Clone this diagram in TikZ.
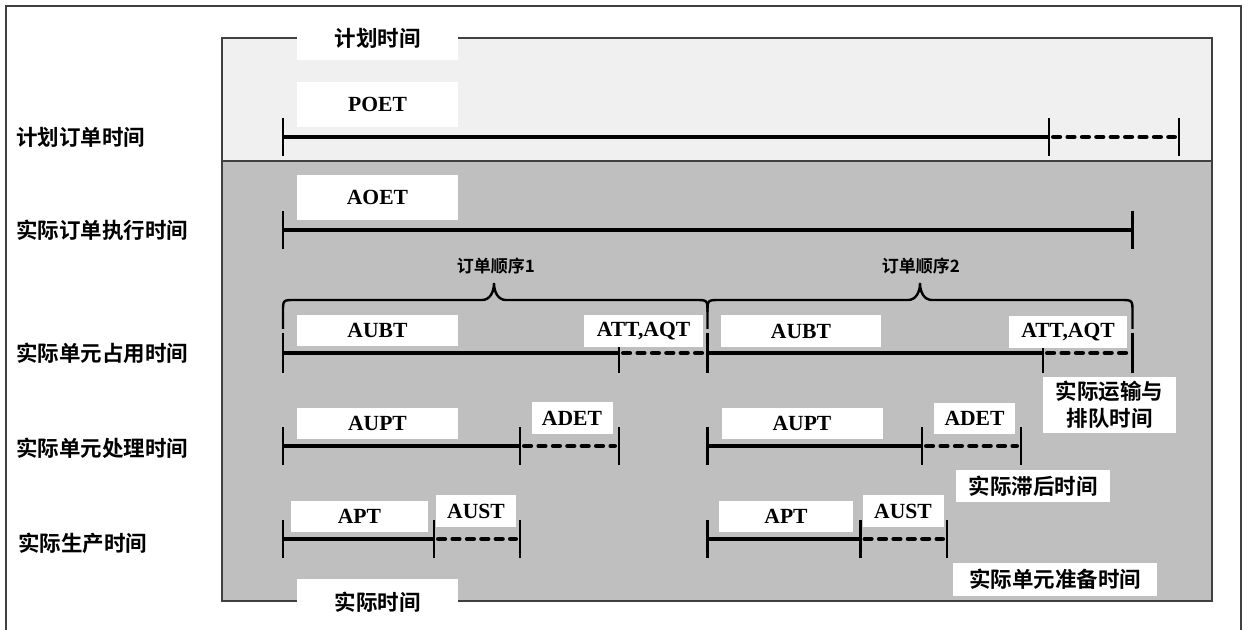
\documentclass[tikz,border=0pt]{standalone}
\usepackage{fontspec}
\setmainfont{Liberation Serif}
\newfontfamily\cjk{Noto Sans CJK SC}[BoldFont={Noto Sans CJK SC Bold}]
\definecolor{planbg}{gray}{0.94}
\definecolor{actbg}{gray}{0.75}
\definecolor{frameline}{gray}{0.25}

\begin{document}
\begin{tikzpicture}[x=0.5pt, y=-0.5pt,
    tbox/.style={fill=white, inner sep=0pt, font=\bfseries\fontsize{10.8}{13}\selectfont},
    cbox/.style={fill=white, inner sep=0pt, align=center, font=\cjk\bfseries\fontsize{10.75}{13.5}\selectfont},
    rowlabel/.style={anchor=west, inner sep=0pt, font=\cjk\bfseries\fontsize{10.75}{13}\selectfont},
    seqlabel/.style={inner sep=0pt, font=\cjk\bfseries\fontsize{8.5}{10}\selectfont},
    spanline/.style={line width=2.4pt},
    waitline/.style={line width=2.4pt, dash pattern=on 3.2pt off 4pt, line cap=round, shorten <=2.2pt, shorten >=2.2pt},
    tickline/.style={line width=1.3pt},
    braceline/.style={line width=1.2pt}]
    \useasboundingbox (0,0) rectangle (1244,630);
    \draw[frameline, line width=0.6pt] (6,630) -- (6,6) -- (1241,6) -- (1241,630);

    \fill[planbg] (222,38) rectangle (1212,161);
    \fill[actbg] (222,161) rectangle (1212,601);
    \draw[frameline, line width=0.6pt] (222,38) rectangle (1212,601);
    \draw[frameline, line width=0.6pt] (222,161) -- (1212,161);

    % time marks
    \coordinate (poet0) at (283,137);
    \coordinate (poet1) at (1049,137);
    \coordinate (poet2) at (1179,137);
    \coordinate (aoet0) at (283,230);
    \coordinate (aoet1) at (1132.5,230);
    \coordinate (ubA0) at (283,353);
    \coordinate (ubA1) at (619,353);
    \coordinate (ubB0) at (707.5,353);
    \coordinate (ubB1) at (1043,353);
    \coordinate (ubB2) at (1132.5,353);
    \coordinate (upA0) at (283,446);
    \coordinate (upA1) at (520,446);
    \coordinate (upA2) at (619,446);
    \coordinate (upB0) at (707.5,446);
    \coordinate (upB1) at (922,446);
    \coordinate (upB2) at (1021,446);
    \coordinate (ptA0) at (283,539);
    \coordinate (ptA1) at (434,539);
    \coordinate (ptA2) at (520,539);
    \coordinate (ptB0) at (707.5,539);
    \coordinate (ptB1) at (860.5,539);
    \coordinate (ptB2) at (947,539);

    \draw[spanline] (poet0) -- (poet1);
    \draw[waitline] (poet1) -- (poet2);
    \draw[spanline] (aoet0) -- (aoet1);
    \draw[spanline] (ubA0) -- (ubA1);
    \draw[waitline] (ubA1) -- (ubB0);
    \draw[spanline] (ubB0) -- (ubB1);
    \draw[waitline] (ubB1) -- (ubB2);
    \draw[spanline] (upA0) -- (upA1);
    \draw[waitline] (upA1) -- (upA2);
    \draw[spanline] (upB0) -- (upB1);
    \draw[waitline] (upB1) -- (upB2);
    \draw[spanline] (ptA0) -- (ptA1);
    \draw[waitline] (ptA1) -- (ptA2);
    \draw[spanline] (ptB0) -- (ptB1);
    \draw[waitline] (ptB1) -- (ptB2);

    \foreach \p in {poet0,poet1,poet2,aoet0,aoet1,upA0,upA1,upA2,upB0,upB1,upB2,ptA0,ptA1,ptA2,ptB0,ptB1,ptB2}
        \draw[tickline] (\p) ++(0,-19) -- ++(0,38);
    \foreach \p in {ubA0,ubA1,ubB0,ubB1,ubB2}
        \draw[tickline] (\p) ++(0,-20) -- ++(0,40);

    % order braces
    \draw[braceline] (283,329) -- (283,312) .. controls (283,300) .. (295,300) -- (482,300)
        .. controls (490,300) and (494,292) .. (494,283) .. controls (494,292) and (498,300) .. (506,300)
        -- (695,300) .. controls (707.5,300) .. (707.5,312) -- (707.5,329);
    \draw[braceline] (707.5,312) .. controls (707.5,300) .. (720,300) -- (908,300)
        .. controls (916,300) and (920,292) .. (920,283) .. controls (920,292) and (924,300) .. (932,300)
        -- (1120,300) .. controls (1132.5,300) .. (1132.5,312) -- (1132.5,329);
    \node[seqlabel] (seq1) at (496,266) {订单顺序1};
    \node[seqlabel] (seq2) at (921,266) {订单顺序2};

    % labels
    \node[cbox, minimum width=80.5pt, minimum height=22pt] (plan) at (377.5,38) {计划时间};
    \node[cbox, minimum width=80.5pt, minimum height=23pt] (actual) at (377.5,602) {实际时间};
    \node[tbox, minimum width=80.5pt, minimum height=22.5pt] (poet) at (377.5,104.5) {POET};
    \node[tbox, minimum width=80.5pt, minimum height=22.5pt] (aoet) at (377.5,197.5) {AOET};
    \node[tbox, minimum width=80.5pt, minimum height=15.5pt] (aubtA) at (377.5,330.5) {AUBT};
    \node[tbox, minimum width=59.5pt, minimum height=16pt] (attA) at (643.5,331) {ATT,AQT};
    \node[tbox, minimum width=80pt, minimum height=16pt] (aubtB) at (801,331) {AUBT};
    \node[tbox, minimum width=59pt, minimum height=16pt] (attB) at (1068,332) {ATT,AQT};
    \node[tbox, minimum width=80.5pt, minimum height=15.5pt] (auptA) at (377.5,423.5) {AUPT};
    \node[tbox, minimum width=40.5pt, minimum height=16pt] (adetA) at (572,418) {ADET};
    \node[tbox, minimum width=80.5pt, minimum height=15.5pt] (auptB) at (802,423.5) {AUPT};
    \node[tbox, minimum width=40.5pt, minimum height=15.5pt] (adetB) at (974.5,418.5) {ADET};
    \node[tbox, minimum width=68.5pt, minimum height=15.5pt] (aptA) at (359.5,516.5) {APT};
    \node[tbox, minimum width=40.25pt, minimum height=16pt] (austA) at (476,511) {AUST};
    \node[tbox, minimum width=66.75pt, minimum height=15.5pt] (aptB) at (786,516.5) {APT};
    \node[tbox, minimum width=40.5pt, minimum height=16pt] (austB) at (903,511) {AUST};
    \node[cbox, minimum width=66.5pt, minimum height=28pt] (transq) at (1109.5,405) {实际运输与\\排队时间};
    \node[cbox, minimum width=77.25pt, minimum height=16pt] (delay) at (1033,486) {实际滞后时间};
    \node[cbox, minimum width=102.25pt, minimum height=16.5pt] (setup) at (1055,579.5) {实际单元准备时间};

    \node[rowlabel] (rplan) at (16,137) {计划订单时间};
    \node[rowlabel] (raoet) at (16,230) {实际订单执行时间};
    \node[rowlabel] (rubt) at (16,353) {实际单元占用时间};
    \node[rowlabel] (rupt) at (16,448) {实际单元处理时间};
    \node[rowlabel] (rpt) at (18,543) {实际生产时间};
\end{tikzpicture}
\end{document}
